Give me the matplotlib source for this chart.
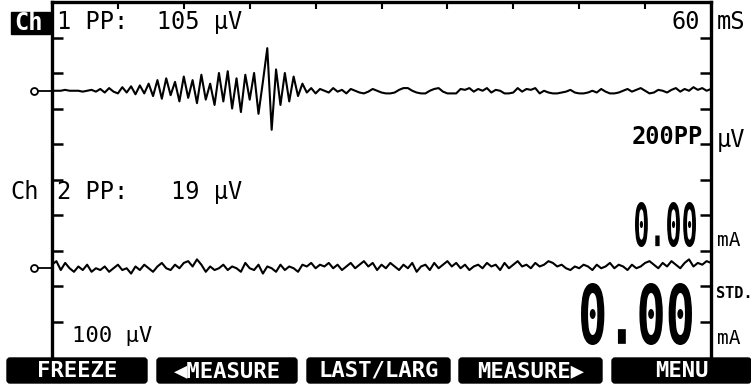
import numpy as np
import matplotlib
matplotlib.use('Agg')
import matplotlib.pyplot as plt
from matplotlib.patches import FancyBboxPatch, Rectangle, PathPatch
from matplotlib.textpath import TextPath
from matplotlib.font_manager import FontProperties
from matplotlib.transforms import Affine2D, blended_transform_factory

# channel traces in microvolts, one sample every 0.4 ms over the 60 ms sweep
ch1_uv = [0, 0, 0, 1, 0, 0, 0, -1, 0, 1,
          -1, 2, -2, 3, -1, -3, 4, -2, 5, -4,
          6, -3, 8, -6, 12, -9, 14, -5, 10, -12,
          16, -8, 12, -14, 18, -10, 8, -16, 20, -12,
          22, -20, 14, -24, 18, -10, 20, -26, 10, 48,
          -44, 24, -16, 20, -12, 16, -6, 8, -2, 3,
          -3, 2, 0, -2, 3, -1, 1, -3, 2, 0,
          -2, -3, -1, 2, 0, -2, -3, -3, -2, 1,
          3, 3, 0, -2, -3, -3, 0, 2, 3, -1,
          -3, -3, -3, 2, 1, 3, -1, 2, 0, 3,
          -2, 1, 0, -3, -3, -2, 3, -1, 2, 1,
          3, -3, 0, -2, -3, -3, -2, -1, 1, -2,
          -3, -3, -2, 0, -2, 2, -1, -3, -3, -2,
          0, 2, -1, 1, 3, 0, -3, -2, 1, 0,
          -2, 1, 3, -1, 2, 0, 4, 1, 3, 0, 2]
ch2_uv = [2, 4, -1, 3, 0, -2, 1, -1, 2, -2,
          0, -1, 1, -2, 0, 2, -1, 0, -3, 1,
          -1, 2, 0, -2, 1, 3, 0, -1, 2, 0,
          3, 4, 1, 5, 2, -2, 1, -1, 0, 2,
          -1, 1, 0, -2, 3, 0, -1, 2, -3, 1,
          0, -2, 2, -1, 1, 0, -2, 2, 1, 3,
          0, 2, 1, 3, 0, 2, -1, 1, 3, 0,
          2, 4, 1, 3, -1, 2, 0, 3, 1, -1,
          2, 0, 3, -2, 1, 2, -1, 3, 0, 2,
          4, 1, 3, 0, 2, -1, 1, 2, 0, 3,
          1, 2, -1, 3, 0, 2, 4, 1, 2, 0,
          3, 1, 2, 4, 3, 1, 2, 0, -1, 1,
          0, 2, 1, -1, 2, 0, 1, 3, 0, 2,
          1, -1, 2, 0, 1, 3, 4, 2, 0, 3,
          1, 4, 2, 0, 3, 5, 1, 3, 2, 4, 3]
dt_ms = 0.4
sweep_ms = 60
ch1_uv_per_div = 40
ch2_uv_per_div = 20
ch1_zero, ch2_zero = 7.5, 2.5
buttons = ['FREEZE', '◀MEASURE', 'LAST/LARG', 'MEASURE▶', 'MENU']

mono = ['DejaVu Sans Mono', 'DejaVu Sans']
plt.rcParams['font.family'] = mono

fig = plt.figure(figsize=(7.51, 3.85), dpi=100)
fig.patch.set_facecolor('white')

# overlay in pixel units for the screen labels
ov = fig.add_axes([0, 0, 1, 1], zorder=0)
ov.set_xlim(0, 751)
ov.set_ylim(385, 0)
ov.axis('off')

ax = fig.add_axes([52 / 751, 28 / 385, 659 / 751, 355 / 385], zorder=1)
ax.patch.set_alpha(0)
t = np.arange(len(ch1_uv)) * dt_ms
ax.plot(t, ch1_zero + np.array(ch1_uv) / ch1_uv_per_div, color='black', lw=1.5)
ax.plot(t, ch2_zero + np.array(ch2_uv) / ch2_uv_per_div, color='black', lw=1.5)
ax.set_xlim(0, sweep_ms)
ax.set_ylim(0, 10)
for s in ['left', 'right', 'top']:
    ax.spines[s].set_linewidth(2.4)
ax.spines['bottom'].set_visible(False)
ax.set_xticks(np.arange(0, sweep_ms + 1, 6))
ax.set_yticks([1, 2, 3, 4, 5, 6, 7, 8, 9])
ax.tick_params(axis='x', which='both', direction='in', length=5, width=1.5,
               top=True, bottom=False, labelbottom=False, labeltop=False)
ax.tick_params(axis='y', direction='in', length=8, width=1.8,
               left=True, right=True, labelleft=False, labelright=False)

# zero markers for each channel
bt = blended_transform_factory(ax.transAxes, ax.transData)
for z in [ch1_zero, ch2_zero]:
    ax.plot([-0.025, 0], [z, z], color='black', lw=1.3, transform=bt, clip_on=False)
    ax.plot([-0.028], [z], marker='o', ms=5, mfc='white', mec='black', mew=1.3,
            transform=bt, clip_on=False)

fs = 17
ov.add_patch(Rectangle((11, 12), 39, 22, color='black'))
ov.text(14, 23, 'Ch', color='white', fontsize=fs, fontweight='bold', va='center', ha='left')
ov.text(57, 22, '1 PP:  105 µV', fontsize=fs, va='center', ha='left')
ov.text(10, 192, 'Ch', fontsize=fs, va='center', ha='left')
ov.text(57, 192, '2 PP:   19 µV', fontsize=fs, va='center', ha='left')
ov.text(700, 22, '60', fontsize=fs, va='center', ha='right')
ov.text(717, 22, 'mS', fontsize=fs, va='center', ha='left')
ov.text(703, 137, '200PP', fontsize=fs, va='center', ha='right', fontweight='bold')
ov.text(717, 140, 'µV', fontsize=fs, va='center', ha='left')
ov.text(717, 240, 'mA', fontsize=14, va='center', ha='left')
ov.text(716, 294, 'STD.', fontsize=11, va='center', ha='left', fontweight='bold')
ov.text(717, 338, 'mA', fontsize=14, va='center', ha='left')
ov.text(72, 336, '100 µV', fontsize=16, va='center', ha='left')


def squeezed(s, x0, x1, ytop, ybot):
    tp = TextPath((0, 0), s, size=100,
                  prop=FontProperties(family='DejaVu Sans Mono', weight='bold'))
    bb = tp.get_extents()
    tr = (Affine2D().translate(-bb.x0, -bb.y0)
          .scale((x1 - x0) / bb.width, -(ybot - ytop) / bb.height)
          .translate(x0, ybot) + ov.transData)
    ov.add_patch(PathPatch(tp, transform=tr, color='black', lw=0))


squeezed('0.00', 635, 696, 202, 247)
squeezed('0.00', 581, 692, 283, 345)

# soft keys
lefts = [7, 157, 307, 459, 612]
rights = [147, 297, 450, 602, 751]
for lbl, l, r in zip(buttons, lefts, rights):
    ov.add_patch(FancyBboxPatch((l + 3, 361), r - l - 6, 19,
                                boxstyle='round,pad=3', color='black'))
    ov.text((l + r) / 2, 371, lbl, color='white', fontsize=16, fontweight='bold',
            va='center', ha='center')

fig.savefig('out.png', dpi=100)
